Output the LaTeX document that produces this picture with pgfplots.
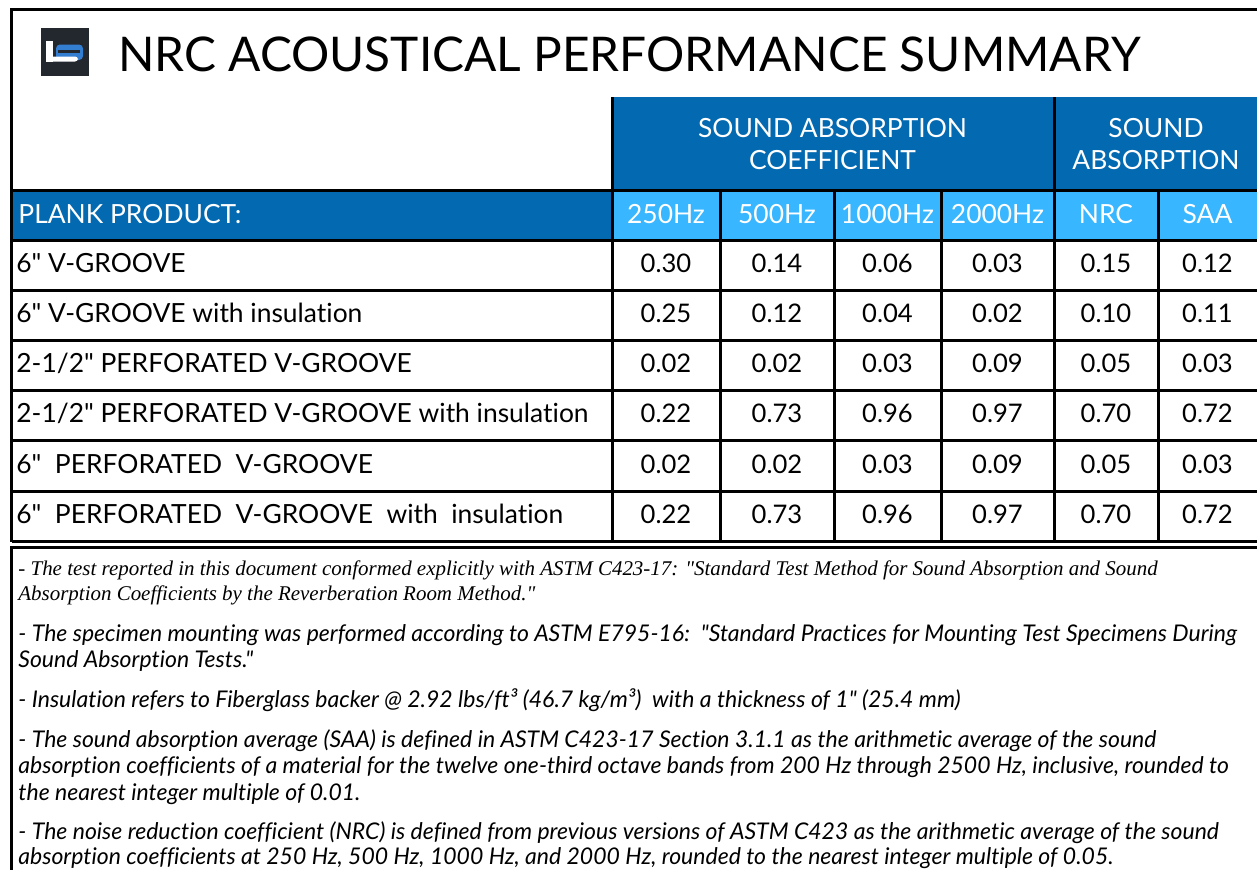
\documentclass[border=0pt]{standalone}
\usepackage{pgfplots}
\pgfplotsset{compat=1.18}
\usepackage{pgfplotstable}
\usepackage{fontspec}
\setmainfont{Lato}[Ligatures={TeXOff,CommonOff}]
\newfontfamily\notesserif{Liberation Serif}[Ligatures={TeXOff}]
\definecolor{dblue}{RGB}{3,105,177}
\definecolor{lblue}{RGB}{56,182,255}
\definecolor{logobg}{RGB}{35,39,46}
\definecolor{logoblue}{RGB}{52,126,210}

% x = column centre (px), y = text baseline (px), v = value
\pgfplotstableread{
x y v
666 272 0.30
777 272 0.14
887.5 272 0.06
997.5 272 0.03
1106 272 0.15
1207.5 272 0.12
666 322 0.25
777 322 0.12
887.5 322 0.04
997.5 322 0.02
1106 322 0.10
1207.5 322 0.11
666 372 0.02
777 372 0.02
887.5 372 0.03
997.5 372 0.09
1106 372 0.05
1207.5 372 0.03
666 422 0.22
777 422 0.73
887.5 422 0.96
997.5 422 0.97
1106 422 0.70
1207.5 422 0.72
666 473 0.02
777 473 0.02
887.5 473 0.03
997.5 473 0.09
1106 473 0.05
1207.5 473 0.03
666 523 0.22
777 523 0.73
887.5 523 0.96
997.5 523 0.97
1106 523 0.70
1207.5 523 0.72
}\tabledata

\begin{document}
\begin{tikzpicture}
\useasboundingbox (0,0) rectangle (628.5pt,434.5pt);
\clip (0,0) rectangle (628.5pt,434.5pt);
\begin{axis}[at={(0,0)}, anchor=south west, width=628.5pt, height=434.5pt,
  scale only axis, xmin=0, xmax=1257, ymin=0, ymax=869, y dir=reverse,
  hide axis, clip=false]
% fills
\fill[dblue] (612.5,97) rectangle (1262,190.5);
\fill[dblue] (11.5,190.5) rectangle (612.5,240.5);
\fill[lblue] (612.5,190.5) rectangle (1262,240.5);
% logo
\fill[logobg] (41,28) rectangle (89,76);
\fill[logoblue, rounded corners=2pt] (56,44.5) rectangle (83,60);
\fill[logobg] (58,49.5) rectangle (80,52.5);
\fill[white] (46,40.5) rectangle (52.5,61.5);
\fill[white, rounded corners=1.5pt] (46,56.5) rectangle (78,61.5);
% grid lines
\draw[line width=1.5pt] (11.5,541.5) -- (11.5,9.5) -- (1262,9.5);
\draw[line width=1.5pt] (11.5,190.5) -- (1262,190.5);
\draw[line width=1.5pt] (11.5,240.5) -- (1262,240.5);
\draw[line width=1.5pt] (11.5,290.5) -- (1262,290.5);
\draw[line width=1.5pt] (11.5,340.5) -- (1262,340.5);
\draw[line width=1.5pt] (11.5,390.5) -- (1262,390.5);
\draw[line width=1.5pt] (11.5,440.5) -- (1262,440.5);
\draw[line width=1.5pt] (11.5,491) -- (1262,491);
\draw[line width=1.5pt] (11.5,541.5) -- (1262,541.5);
\draw[line width=1.5pt] (612.5,97) -- (612.5,541.5);
\draw[line width=1.5pt] (1054,97) -- (1054,541.5);
\draw[line width=1.5pt] (720,190.5) -- (720,541.5);
\draw[line width=1.5pt] (834,190.5) -- (834,541.5);
\draw[line width=1.5pt] (941.5,190.5) -- (941.5,541.5);
\draw[line width=1.5pt] (1158,190.5) -- (1158,541.5);
\draw[line width=1.5pt] (11.5,880) -- (11.5,547.5) -- (1262,547.5);
% title
\node[anchor=base west, inner sep=0pt, font=\fontsize{23.9}{28}\selectfont] at (118,71) {NRC ACOUSTICAL PERFORMANCE SUMMARY};
% header texts
\begin{scope}[every node/.style={inner sep=0pt, text=white, font=\fontsize{13.2}{15}\selectfont}]
\node[anchor=base] at (832.5,137.5) {SOUND ABSORPTION};
\node[anchor=base] at (832.5,169.5) {COEFFICIENT};
\node[anchor=base] at (1156,137.5) {SOUND};
\node[anchor=base] at (1156,169.5) {ABSORPTION};
\node[anchor=base west] at (18,223) {PLANK PRODUCT:};
\node[anchor=base] at (666,223) {250Hz};
\node[anchor=base] at (777,223) {500Hz};
\node[anchor=base] at (887.5,223) {1000Hz};
\node[anchor=base] at (997.5,223) {2000Hz};
\node[anchor=base] at (1106,223) {NRC};
\node[anchor=base] at (1207.5,223) {SAA};
\end{scope}
% row labels
\begin{scope}[every node/.style={inner sep=0pt, anchor=base west, font=\fontsize{13.2}{15}\selectfont}]
\node at (16,272) {6" V-GROOVE};
\node at (16,322) {6" V-GROOVE with insulation};
\node at (16,372) {2-1/2" PERFORATED V-GROOVE};
\node at (16,422) {2-1/2" PERFORATED V-GROOVE with insulation};
\node at (16,473) {6"\ \ PERFORATED\ \ V-GROOVE};
\node at (16,523) {6"\ \ PERFORATED\ \ V-GROOVE\ \ with\ \ insulation};
\end{scope}
% values
\addplot[draw=none, mark=none, nodes near coords, point meta=explicit symbolic,
  nodes near coords style={anchor=base, inner sep=0pt, text=black, font=\fontsize{12.8}{15}\selectfont}]
  table[x=x, y=y, meta=v] {\tabledata};
% notes
\begin{scope}[every node/.style={inner sep=0pt, anchor=base west, font=\fontsize{11.5}{13}\selectfont\itshape}]
\node[font=\notesserif\fontsize{10.48}{12}\selectfont\itshape] at (18,575) {- The test reported in this document conformed explicitly with ASTM C423-17: "Standard Test Method for Sound Absorption and Sound};
\node[font=\notesserif\fontsize{10.48}{12}\selectfont\itshape] at (18,600) {Absorption Coefficients by the Reverberation Room Method."};
\node at (18,641) {- The specimen mounting was performed according to ASTM E795-16:\ \ "Standard Practices for Mounting Test Specimens During};
\node at (18,667) {Sound Absorption Tests."};
\node at (18,707) {- Insulation refers to Fiberglass backer @ 2.92 lbs/ft³ (46.7 kg/m³)\ \ with a thickness of 1" (25.4 mm)};
\node at (18,747) {- The sound absorption average (SAA) is defined in ASTM C423-17 Section 3.1.1 as the arithmetic average of the sound};
\node at (18,773) {absorption coefficients of a material for the twelve one-third octave bands from 200 Hz through 2500 Hz, inclusive, rounded to};
\node at (18,800) {the nearest integer multiple of 0.01.};
\node at (18,839) {- The noise reduction coefficient (NRC) is defined from previous versions of ASTM C423 as the arithmetic average of the sound};
\node at (18,864) {absorption coefficients at 250 Hz, 500 Hz, 1000 Hz, and 2000 Hz, rounded to the nearest integer multiple of 0.05.};
\end{scope}
\end{axis}
\end{tikzpicture}
\end{document}
